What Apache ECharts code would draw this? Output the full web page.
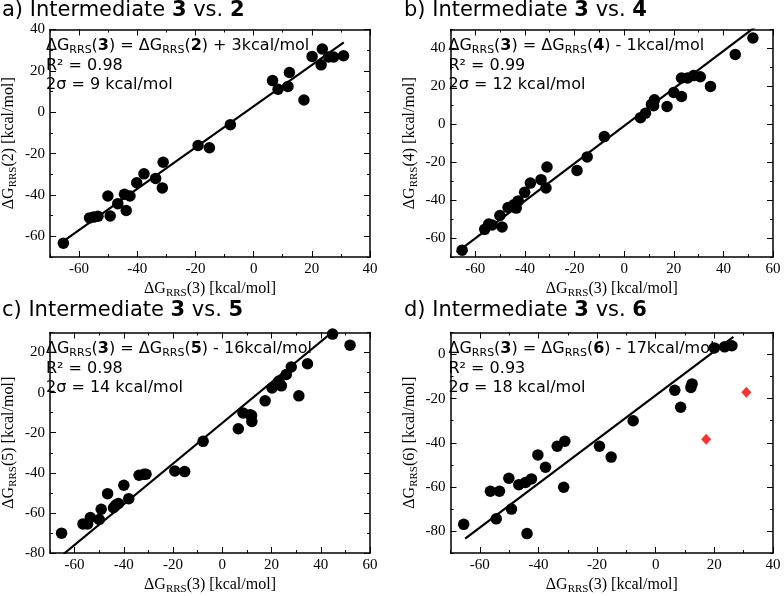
<!DOCTYPE html>
<html>
<head>
<meta charset="utf-8">
<script src="https://cdn.jsdelivr.net/npm/echarts@6/dist/echarts.min.js"></script>
<style>html,body{margin:0;padding:0;background:#fff}#c{width:784px;height:596px}</style>
</head>
<body>
<div id="c"></div>
<script>
// ---- data (ΔG_RRS(3) vs ΔG_RRS(n), kcal/mol) ----
const panelA = [[-65.4,-63.3],[-56.4,-51.1],[-55.0,-50.7],[-53.5,-50.3],[-50.1,-40.5],[-49.3,-50.2],[-46.7,-44.2],[-44.4,-39.7],[-43.8,-47.5],[-42.5,-40.5],[-40.2,-34.1],[-37.7,-29.8],[-33.7,-32.0],[-31.4,-36.6],[-31.1,-24.2],[-19.1,-16.1],[-15.2,-17.2],[-8.0,-6.0],[6.5,15.3],[8.4,11.1],[11.8,12.5],[12.3,19.2],[17.3,5.9],[20.1,27.0],[23.2,22.9],[23.6,30.6],[25.8,26.7],[27.5,26.7],[30.9,27.3]];
const panelB = [[-65.3,-66.4],[-56.2,-55.4],[-54.6,-52.6],[-53.2,-53.1],[-50.1,-48.1],[-49.2,-54.2],[-46.8,-43.9],[-44.5,-42.5],[-43.5,-44.2],[-42.7,-40.4],[-40.1,-35.9],[-37.8,-31.0],[-33.5,-29.2],[-31.5,-33.6],[-31.1,-22.5],[-19.0,-24.4],[-14.9,-17.2],[-8.0,-6.5],[6.6,3.5],[8.6,5.8],[11.0,10.5],[12.2,12.9],[11.9,9.8],[17.3,9.4],[20.0,16.8],[23.1,24.4],[23.1,14.7],[25.6,24.4],[28.0,25.7],[30.7,25.1],[34.8,20.0],[44.8,36.8],[51.9,45.5]];
const panelC = [[-65.3,-70.1],[-56.6,-65.5],[-54.7,-65.5],[-53.6,-62.3],[-50.0,-63.3],[-49.2,-58.2],[-46.6,-50.4],[-44.2,-57.4],[-43.3,-56.1],[-42.2,-55.3],[-40.0,-46.2],[-38.0,-52.9],[-33.8,-41.2],[-31.8,-40.7],[-31.0,-40.7],[-19.3,-39.1],[-15.3,-39.4],[-7.8,-24.3],[6.5,-18.0],[8.4,-10.1],[11.3,-11.0],[12.0,-14.4],[11.9,-11.4],[17.4,-4.1],[20.2,2.3],[23.0,5.8],[24.0,3.4],[26.0,9.1],[28.0,12.8],[31.1,-1.6],[34.6,14.4],[44.8,29.2],[51.9,23.7]];
const panelD = [[-65.5,-77.0],[-56.4,-62.0],[-54.4,-74.5],[-53.3,-62.0],[-50.1,-56.1],[-49.2,-70.1],[-46.7,-59.0],[-44.4,-58.0],[-43.9,-81.2],[-42.4,-56.4],[-40.2,-45.5],[-37.6,-51.1],[-33.6,-41.6],[-31.4,-60.2],[-31.0,-39.3],[-19.2,-41.6],[-15.2,-46.5],[-7.7,-30.0],[6.5,-16.2],[8.5,-23.9],[12.0,-14.9],[12.4,-13.3],[20.0,3.0],[23.5,3.5],[26.0,4.0]];
const panelDOutliers = [[17.2,-38.4],[30.9,-17.1]];
// fitted lines (end points)
const fitA = [[-65,-62],[31,33.8]];
const fitB = [[-67.5,-67.5],[53,51.5]];
const fitC = [[-64.5,-80.5],[45.5,31]];
const fitD = [[-65,-83.5],[26.5,8]];
// axis ranges [xmin,xmax,ymin,ymax]
const rangesA = [-70,40,-70,40];
const rangesB = [-70,60,-70,50];
const rangesC = [-70,60,-80,30];
const rangesD = [-70,40,-90,10];
// major tick labels
const xTicksA = [-60,-40,-20,0,20,40];
const xTicksB = [-60,-40,-20,0,20,40,60];
const xTicksC = [-60,-40,-20,0,20,40,60];
const xTicksD = [-60,-40,-20,0,20,40];
const yTicksA = [-60,-40,-20,0,20,40];
const yTicksB = [-60,-40,-20,0,20,40];
const yTicksC = [-80,-60,-40,-20,0,20];
const yTicksD = [-80,-60,-40,-20,0];
const titles = [['a)','3','2'],['b)','3','4'],['c)','3','5'],['d)','3','6']];
const eqs = [['2','+ 3kcal/mol','0.98','9'],['4','- 1kcal/mol','0.99','12'],['5','- 16kcal/mol','0.98','14'],['6','- 17kcal/mol','0.93','18']];
const yNums = ['2','4','5','6'];

const grids = [
  {left:48, top:29.5, width:322, height:227.5},
  {left:450.5, top:29.5, width:322.5, height:227.5},
  {left:48, top:332.5, width:322, height:225.5},
  {left:450.5, top:332.5, width:322.5, height:225.5}
];
const ranges = [rangesA, rangesB, rangesC, rangesD];
const xTicks = [xTicksA,xTicksB,xTicksC,xTicksD];
const yTicks = [yTicksA,yTicksB,yTicksC,yTicksD];
const serif = '"Liberation Serif","DejaVu Serif",serif';
const sans = '"DejaVu Sans","Noto Sans",sans-serif';
const nameRich = {
  g:{fontFamily:serif,fontSize:16,color:'#000',lineHeight:20,verticalAlign:'middle',fontWeight:'normal'},
  s:{fontFamily:serif,fontSize:11,color:'#000',lineHeight:12,verticalAlign:'bottom',padding:[6,0,0,0],fontWeight:'normal'}
};
// major axis: line, ticks (len 6) and labels at the listed values
function majorAxis(gi,pos,mn,mx,ticks,showLabel){
  return {
    type:'value', gridIndex:gi, position:pos, min:mn, max:mx, interval:10,
    splitLine:{show:false},
    axisLine:{show:true,onZero:false,lineStyle:{color:'#000',width:1.5}},
    axisTick:{show:true,inside:true,length:6,customValues:ticks,lineStyle:{color:'#000',width:1}},
    minorTick:{show:false},
    axisLabel:{show:showLabel,customValues:ticks,color:'#000',fontFamily:serif,fontSize:15,margin:5}
  };
}
// minor axis: only short ticks every 10
function minorAxis(gi,pos,mn,mx){
  return {
    type:'value', gridIndex:gi, position:pos, min:mn, max:mx, interval:10,
    splitLine:{show:false},
    axisLine:{show:false,onZero:false},
    axisTick:{show:true,inside:true,length:3,lineStyle:{color:'#000',width:1}},
    minorTick:{show:false},
    axisLabel:{show:false}
  };
}
const xAxes=[], yAxes=[], series=[], titleArr=[];
grids.forEach((g,i)=>{
  const r = ranges[i];
  const xb = majorAxis(i,'bottom',r[0],r[1],xTicks[i],true);
  Object.assign(xb,{name:'{g|ΔG}{s|RRS}{g|(3) [kcal/mol]}',nameLocation:'middle',nameGap:22,nameTextStyle:{rich:nameRich}});
  xAxes.push(xb);                                        // 4i
  xAxes.push(majorAxis(i,'top',r[0],r[1],xTicks[i],false)); // 4i+1
  xAxes.push(minorAxis(i,'bottom',r[0],r[1]));           // 4i+2
  xAxes.push(minorAxis(i,'top',r[0],r[1]));              // 4i+3
  const yl = majorAxis(i,'left',r[2],r[3],yTicks[i],true);
  Object.assign(yl,{name:'{g|ΔG}{s|RRS}{g|('+yNums[i]+') [kcal/mol]}',nameLocation:'middle',nameGap:31,nameRotate:90,nameTextStyle:{rich:nameRich}});
  yAxes.push(yl);
  yAxes.push(majorAxis(i,'right',r[2],r[3],yTicks[i],false));
  yAxes.push(minorAxis(i,'left',r[2],r[3]));
  yAxes.push(minorAxis(i,'right',r[2],r[3]));
});
const datasets=[panelA,panelB,panelC,panelD];
const fits=[fitA,fitB,fitC,fitD];
datasets.forEach((d,i)=>{
  series.push({type:'line',xAxisIndex:4*i,yAxisIndex:4*i,data:fits[i],showSymbol:false,symbol:'none',clip:true,
    lineStyle:{color:'#000',width:2.2},z:2,silent:true,animation:false});
  series.push({type:'scatter',xAxisIndex:4*i,yAxisIndex:4*i,data:d,symbol:'circle',symbolSize:11.5,
    itemStyle:{color:'#000',opacity:1},z:3,animation:false});
});
series.push({type:'scatter',xAxisIndex:12,yAxisIndex:12,data:panelDOutliers,symbol:'diamond',symbolSize:[10,11],
  itemStyle:{color:'#ff0000'},z:3,animation:false});

const titleRich = {
  n:{fontFamily:sans,fontSize:21,color:'#000',fontWeight:'normal'},
  b:{fontFamily:sans,fontSize:21,fontWeight:'bold',color:'#000'}
};
const eqRich = {
  n:{fontFamily:sans,fontSize:16,color:'#000',lineHeight:19.5,verticalAlign:'middle',fontWeight:'normal'},
  b:{fontFamily:sans,fontSize:16,fontWeight:'bold',color:'#000',lineHeight:19.5,verticalAlign:'middle'},
  s:{fontFamily:sans,fontSize:11,color:'#000',lineHeight:12,verticalAlign:'bottom',padding:[5,0,0,0],fontWeight:'normal'}
};
const titlePos=[[2,0],[404,0],[2,300],[404,300]];
grids.forEach((g,i)=>{
  const t=titles[i];
  titleArr.push({text:'{n|'+t[0]+' Intermediate }{b|'+t[1]+'}{n| vs. }{b|'+t[2]+'}',left:titlePos[i][0],top:titlePos[i][1],padding:0,
    textStyle:{fontWeight:'normal',rich:titleRich}});
  const e=eqs[i];
  titleArr.push({text:'{n|ΔG}{s|RRS}{n|(}{b|3}{n|) = ΔG}{s|RRS}{n|(}{b|'+e[0]+'}{n|) '+e[1]+'}\n{n|R² = '+e[2]+'}\n{n|2σ = '+e[3]+' kcal/mol}',
    left:g.left-2,top:g.top+7,padding:0,textStyle:{fontWeight:'normal',rich:eqRich}});
});

const chart = echarts.init(document.getElementById('c'),null,{renderer:'canvas'});
chart.setOption({
  animation:false,
  backgroundColor:'#fff',
  title:titleArr,
  grid:grids.map(g=>Object.assign({containLabel:false,show:false},g)),
  xAxis:xAxes, yAxis:yAxes, series:series
});
</script>
</body>
</html>
